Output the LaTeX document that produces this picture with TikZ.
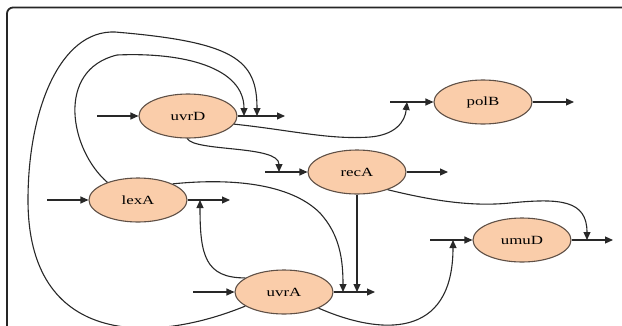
\documentclass[tikz,border=0pt]{standalone}
\usepackage{fontspec}
\newfontfamily\genefont[FakeStretch=1.35]{Liberation Serif}
\usetikzlibrary{shapes.geometric, arrows.meta}
\definecolor{genefill}{RGB}{250,205,170}
\definecolor{genedraw}{RGB}{95,80,70}
\definecolor{linegray}{RGB}{40,40,40}
\tikzset{
  % Gene ellipse
  gene/.style={
    ellipse, draw=genedraw, fill=genefill, line width=1.1pt,
    minimum width=98pt, minimum height=44pt, inner sep=0pt,
    font=\genefont\fontsize{12.5}{14}\selectfont
  },
  % Regulatory arrow (filled triangle head)
  flow/.style={
    draw=linegray, line width=1.1pt,
    -{Triangle[length=8pt, width=7pt]}
  },
  % Outer frame
  frame/.style={draw=black!85, line width=1.8pt, rounded corners=6pt}
}

\begin{document}
\begin{tikzpicture}[x=1pt, y=-1pt]
\clip (0,0) rectangle (622,325);
\useasboundingbox (0,0) rectangle (622,325);

% ============================================================
% FRAME (only top and left edges are visible)
% ============================================================
\draw[frame] (7,340) -- (7,7.5) -- (640,7.5);

% ============================================================
% GENES
% ============================================================
\node[gene] (uvrD) at (188,116) {uvrD};
\node[gene] (polB) at (483,102) {polB};
\node[gene] (recA) at (357,172) {recA};
\node[gene] (lexA) at (138,200) {lexA};
\node[gene] (uvrA) at (284,292) {uvrA};
\node[gene] (umuD) at (522,240) {umuD};

% ============================================================
% INPUT / OUTPUT STUBS
% ============================================================
\coordinate (uvrD-in)  at (97,116);  \coordinate (uvrD-out) at (285,116);
\coordinate (polB-in)  at (390,102); \coordinate (polB-out) at (574,102);
\coordinate (recA-in)  at (265,172); \coordinate (recA-out) at (448,172);
\coordinate (lexA-in)  at (47,200);  \coordinate (lexA-out) at (230,200);
\coordinate (uvrA-in)  at (193,292); \coordinate (uvrA-out) at (375,292);
\coordinate (umuD-in)  at (430,240); \coordinate (umuD-out) at (613,240);

% junction points on the stubs
\coordinate (uvrD-j1) at (244,116);
\coordinate (uvrD-j2) at (257,116);
\coordinate (polB-j)  at (407,102);
\coordinate (recA-j)  at (279,172);
\coordinate (lexA-j)  at (200,200);
\coordinate (uvrA-j1) at (343,292);
\coordinate (uvrA-j2) at (357,292);
\coordinate (umuD-j1) at (453,240);
\coordinate (umuD-j2) at (587,240);

\foreach \g in {uvrD, polB, recA, lexA, uvrA, umuD} {
  \draw[flow] (\g-in) -- (\g);
  \draw[flow] (\g) -- (\g-out);
}

% ============================================================
% REGULATION ARROWS
% ============================================================

% -- lexA --> uvrD (inner loop) --
\draw[flow] (lexA.150) .. controls (70,150) and (55,70) .. (117,55)
  .. controls (185,52) and (244,68) .. (uvrD-j1);

% -- uvrA --> uvrD (outer loop) --
\draw[flow] (uvrA.200) .. controls (150,345) and (28,345) .. (28,200)
  .. controls (28,110) and (60,30) .. (115,32)
  .. controls (235,42) and (257,60) .. (uvrD-j2);

% -- uvrD --> polB --
\draw[flow] (uvrD.350) .. controls (290,130) and (330,140) .. (370,137)
  .. controls (395,135) and (405,122) .. (polB-j);

% -- uvrD --> recA --
\draw[flow] (uvrD.268) .. controls (195,152) and (279,145) .. (recA-j);

% -- lexA --> uvrA --
\draw[flow] (lexA.25) .. controls (230,178) and (290,183) .. (320,213)
  .. controls (340,235) and (343,260) .. (uvrA-j1);

% -- recA --> uvrA --
\draw[flow] (recA) -- (uvrA-j2);

% -- recA --> umuD --
\draw[flow] (recA.330) .. controls (430,200) and (470,207) .. (510,203)
  .. controls (560,198) and (587,200) .. (umuD-j2);

% -- uvrA --> umuD --
\draw[flow] (uvrA.335) .. controls (380,335) and (453,340) .. (umuD-j1);

% -- uvrA --> lexA --
\draw[flow] (uvrA.160) .. controls (205,278) and (200,255) .. (lexA-j);

\end{tikzpicture}
\end{document}
